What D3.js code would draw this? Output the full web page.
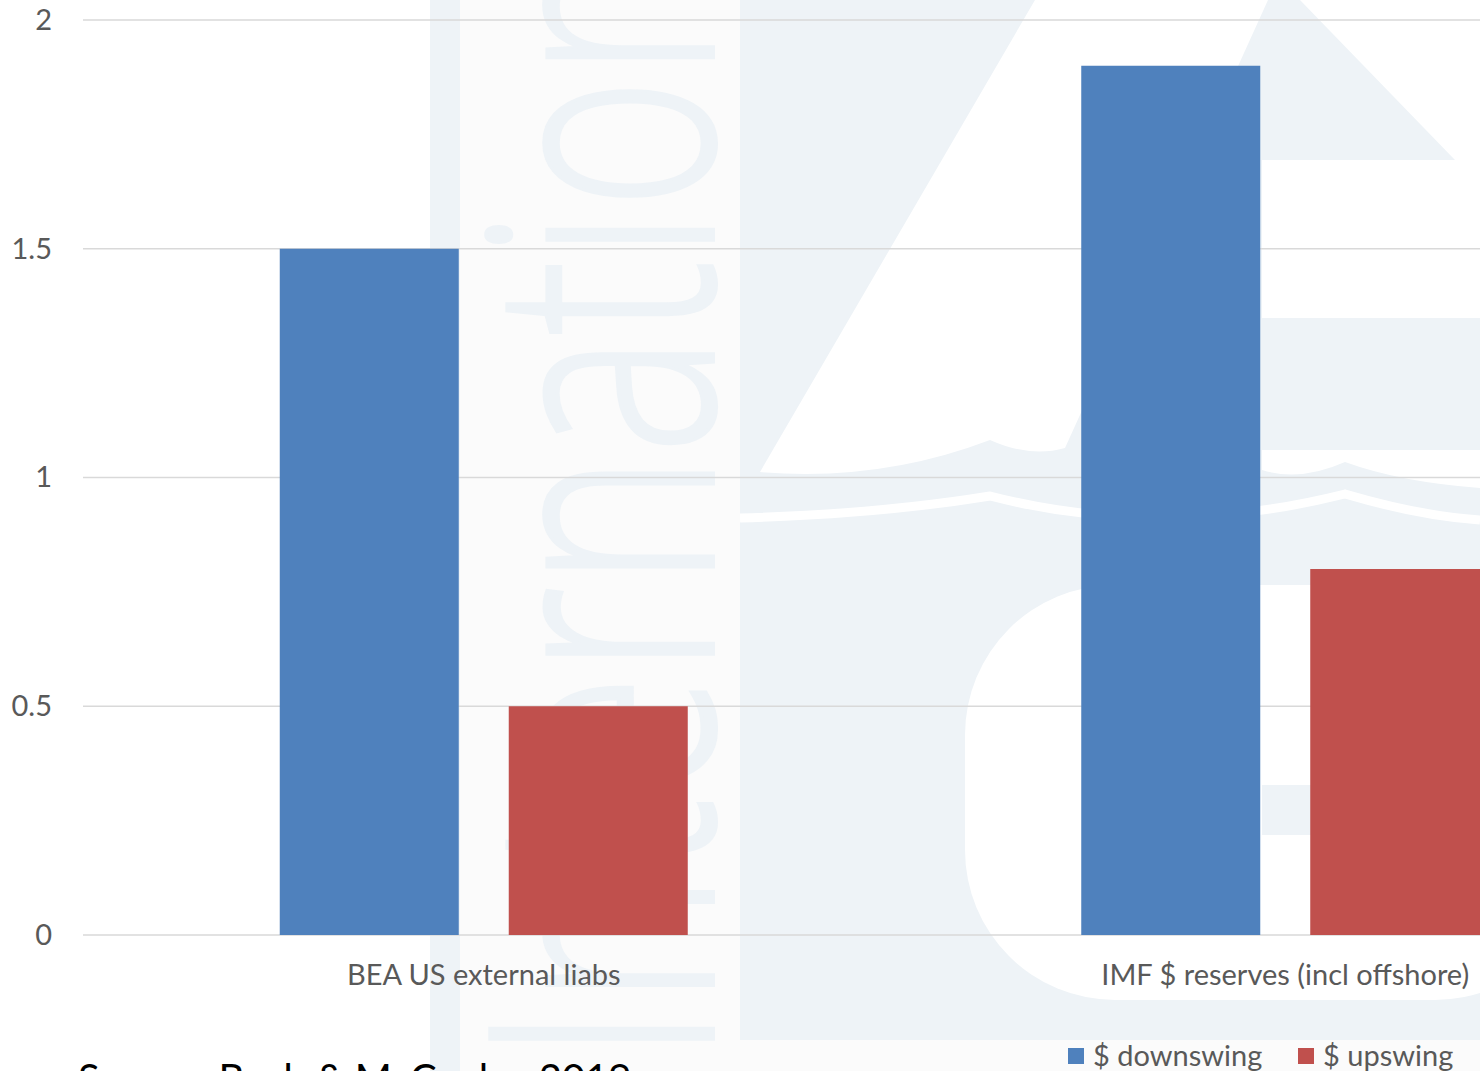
<!DOCTYPE html>
<meta charset="utf-8">
<style>
body { margin: 0; background: #fff; }
svg { display: block; font-family: Lato, "Open Sans", sans-serif; }
.tick text { fill: #595959; }
</style>
<body>
<script src="https://d3js.org/d3.v7.min.js"></script>
<script>
// data
var categories = ["BEA US external liabs", "IMF $ reserves (incl offshore)"];
var series = ["$ downswing", "$ upswing"];
var downswing = [1.5, 1.9];
var upswing = [0.5, 0.8];
var yTicks = [0, 0.5, 1, 1.5, 2];
var colors = ["#4f81bd", "#c0504d"];

var W = 1480, H = 1071;
var plotLeft = 83, plotTop = 20, plotBottom = 935;
var step = 801.5; // width of one category slot

var svg = d3.select("body").append("svg")
    .attr("width", W)
    .attr("height", H);

// faded logo watermark behind the chart
var wm = svg.append("g").attr("class", "watermark");
var pale = "#eef3f7";
wm.append("rect").attr("x", 460).attr("y", 0).attr("width", 280).attr("height", H).attr("fill", "#fbfbfb");
wm.append("rect").attr("x", 430).attr("y", 0).attr("width", 30).attr("height", H).attr("fill", pale);
wm.append("rect").attr("x", 740).attr("y", 0).attr("width", 740).attr("height", 1040).attr("fill", pale);
wm.append("rect").attr("x", 740).attr("y", 1040).attr("width", 740).attr("height", 31).attr("fill", "#fbfbfb");
wm.append("path").attr("fill", "#fff")
    .attr("d", "M1035,0 L1268,0 L1065,448 Q1030,458 990,440 Q880,482 760,472 Z");
wm.append("path").attr("fill", "#fff")
    .attr("d", "M1300,0 L1480,0 L1480,318 L1262,318 L1262,160 L1455,160 Z");
wm.append("path").attr("fill", "#fff")
    .attr("d", "M1262,450 L1480,450 L1480,488 Q1400,482 1345,462 Q1300,482 1262,470 Z");
wm.append("path").attr("fill", "none").attr("stroke", "#fff").attr("stroke-width", 9)
    .attr("d", "M740,518 Q880,514 990,496 Q1160,540 1345,494 Q1420,516 1480,520");
wm.append("rect").attr("x", 965).attr("y", 585).attr("width", 620).attr("height", 415)
    .attr("rx", 150).attr("fill", "#fff");
wm.append("rect").attr("x", 1262).attr("y", 785).attr("width", 218).attr("height", 50).attr("fill", pale);
wm.append("text")
    .attr("transform", "translate(713,1062) rotate(-90) scale(0.72,1)")
    .style("font-family", "'Open Sans', sans-serif")
    .style("font-weight", 300)
    .style("font-size", "312px")
    .attr("fill", pale)
    .attr("stroke", pale)
    .attr("stroke-width", 4)
    .text("International");

// scales
var x0 = d3.scaleBand().domain(categories).range([plotLeft, plotLeft + step * categories.length]);
var groupW = 408;
var x1 = d3.scaleBand().domain(series).range([0, groupW]).paddingInner(0.2183);
var y = d3.scaleLinear().domain([0, 2]).range([plotBottom, plotTop]);

// gridlines
svg.append("g")
  .selectAll("line")
  .data(yTicks)
  .join("line")
    .attr("x1", plotLeft).attr("x2", W)
    .attr("y1", function(d) { return y(d); })
    .attr("y2", function(d) { return y(d); })
    .attr("stroke", "#d9d9d9")
    .attr("stroke-width", 1.5);

// y axis labels
var yAxis = svg.append("g")
    .attr("transform", "translate(" + (plotLeft - 31) + ",0)")
    .call(d3.axisLeft(y).tickValues(yTicks).tickSize(0).tickPadding(0).tickFormat(d3.format("~g")));
yAxis.select(".domain").remove();
yAxis.selectAll("text").style("font-size", "29px").style("font-family", "Lato, sans-serif");

// bars
var rows = categories.map(function(c, i) { return {cat: c, vals: [downswing[i], upswing[i]]}; });
var groups = svg.append("g").selectAll("g")
  .data(rows)
  .join("g")
    .attr("transform", function(d) { return "translate(" + (x0(d.cat) + (x0.bandwidth() - groupW) / 2) + ",0)"; });

groups.selectAll("rect")
  .data(function(d) { return d.vals.map(function(v, j) { return {s: series[j], v: v, j: j}; }); })
  .join("rect")
    .attr("x", function(d) { return x1(d.s); })
    .attr("width", x1.bandwidth())
    .attr("y", function(d) { return y(d.v); })
    .attr("height", function(d) { return y(0) - y(d.v); })
    .attr("fill", function(d) { return colors[d.j]; });

// category axis
var xAxis = svg.append("g")
    .attr("transform", "translate(0," + plotBottom + ")")
    .call(d3.axisBottom(x0).tickSize(0).tickPadding(29));
xAxis.select(".domain").remove();
xAxis.selectAll("text").style("font-size", "29px").style("font-family", "Lato, sans-serif");

// legend
var legend = svg.append("g").selectAll("g")
  .data(series)
  .join("g")
    .attr("transform", function(d, i) { return "translate(" + [1068, 1298][i] + ",1048)"; });
legend.append("rect")
    .attr("width", 16).attr("height", 16)
    .attr("fill", function(d, i) { return colors[i]; });
legend.append("text")
    .attr("x", 25).attr("y", 18)
    .attr("fill", "#595959")
    .style("font-size", "29px")
    .text(function(d) { return d; });

// source note (cut off at the bottom edge)
svg.append("text")
    .attr("x", 78).attr("y", 1093)
    .attr("fill", "#000")
    .style("font-size", "40px")
    .text("Source: Bush & McCauley 2019");
</script>
</body>
